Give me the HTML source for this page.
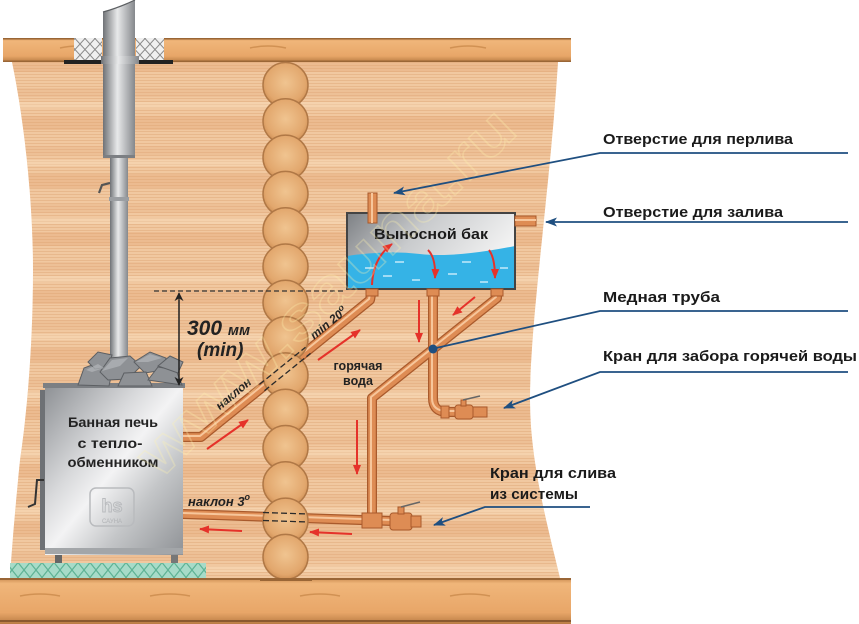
<!DOCTYPE html>
<html><head><meta charset="utf-8"><style>
html,body{margin:0;padding:0;background:#fff;}
svg{display:block;}
text{font-family:"Liberation Sans","DejaVu Sans",sans-serif;}
</style></head><body>
<svg width="859" height="624" viewBox="0 0 859 624" xmlns="http://www.w3.org/2000/svg">
<defs>
<pattern id="fine" width="8" height="3" patternUnits="userSpaceOnUse"><rect width="8" height="3" fill="#f1c8a0"/><rect y="2" width="8" height="1" fill="#e0ab7c" opacity="0.55"/></pattern>
<pattern id="bands" width="10" height="58" patternUnits="userSpaceOnUse"><rect y="0" width="10" height="14" fill="#e2a473" opacity="0.35"/><rect y="30" width="10" height="9" fill="#e6ae7e" opacity="0.3"/><rect y="44" width="10" height="6" fill="#fbe0c0" opacity="0.4"/></pattern>
<linearGradient id="beam" x1="0" y1="0" x2="0" y2="1"><stop offset="0" stop-color="#c98a50"/><stop offset="0.12" stop-color="#f0b67a"/><stop offset="0.75" stop-color="#e8a668"/><stop offset="1" stop-color="#b97c44"/></linearGradient>
<radialGradient id="log" cx="0.5" cy="0.45" r="0.55"><stop offset="0" stop-color="#f0c490"/><stop offset="0.8" stop-color="#e2a76d"/><stop offset="1" stop-color="#d09157"/></radialGradient>
<linearGradient id="pipeV" x1="0" y1="0" x2="1" y2="0"><stop offset="0" stop-color="#6f7276"/><stop offset="0.45" stop-color="#e8e9ea"/><stop offset="1" stop-color="#85888c"/></linearGradient>
<linearGradient id="stove" x1="0" y1="0" x2="1" y2="1"><stop offset="0" stop-color="#8d9094"/><stop offset="0.35" stop-color="#d8d9db"/><stop offset="0.5" stop-color="#f3f3f4"/><stop offset="0.7" stop-color="#c4c6c8"/><stop offset="1" stop-color="#8f9296"/></linearGradient>
<linearGradient id="tank" x1="0" y1="0" x2="1" y2="0.4"><stop offset="0" stop-color="#7d8084"/><stop offset="0.45" stop-color="#c9cbcd"/><stop offset="1" stop-color="#f4f4f4"/></linearGradient>
<pattern id="xhatch" width="10" height="11" patternUnits="userSpaceOnUse"><rect width="10" height="11" fill="#f0f0f0"/><path d="M0,0 L10,11 M10,0 L0,11" stroke="#8a8a8a" stroke-width="1"/></pattern>
<pattern id="green" width="12" height="15" patternUnits="userSpaceOnUse"><rect width="12" height="15" fill="#a7dbc8"/><path d="M0,0 L12,15 M12,0 L0,15" stroke="#5fb395" stroke-width="1.2"/></pattern>
<marker id="ra" viewBox="0 0 10 8" refX="9" refY="4" markerWidth="10" markerHeight="8" markerUnits="userSpaceOnUse" orient="auto"><path d="M0,0 L10,4 L0,8 z" fill="#e5322a"/></marker>
<marker id="ba" viewBox="0 0 12 9" refX="11" refY="4.5" markerWidth="12" markerHeight="9" markerUnits="userSpaceOnUse" orient="auto"><path d="M0,0 L12,4.5 L0,9 L3,4.5 z" fill="#1f4f80"/></marker>
<marker id="da" viewBox="0 0 10 10" refX="9" refY="5" markerWidth="9" markerHeight="9" markerUnits="userSpaceOnUse" orient="auto"><path d="M0,0 L10,5 L0,10 L3,5 z" fill="#222"/></marker>
</defs>

<!-- wall -->
<path d="M12,62 C24,120 33,200 33,270 C33,350 26,420 20,460 C16,500 12,545 10,578 L560,578 C546,520 530,460 530,400 C530,320 550,190 558,62 Z" fill="url(#fine)"/>
<path d="M12,62 C24,120 33,200 33,270 C33,350 26,420 20,460 C16,500 12,545 10,578 L560,578 C546,520 530,460 530,400 C530,320 550,190 558,62 Z" fill="url(#bands)"/>

<!-- ceiling beam -->
<rect x="3" y="38" width="568" height="24" fill="url(#beam)"/>
<rect x="3" y="38" width="568" height="1.5" fill="#9a6636"/>
<rect x="3" y="60.5" width="568" height="1.5" fill="#9a6636"/>
<!-- floor beam -->
<rect x="0" y="578" width="571" height="46" fill="url(#beam)"/>
<rect x="0" y="578" width="571" height="2" fill="#9a6636"/>
<rect x="0" y="620" width="571" height="2" fill="#8a5a30"/>
<path d="M20,596 q20,-4 40,0 M150,596 q20,-4 40,0 M300,596 q20,-4 40,0 M450,596 q20,-4 40,0 M60,48 q18,-4 36,0 M250,48 q18,-4 36,0 M450,48 q18,-4 36,0" stroke="#c48446" stroke-width="1.5" fill="none" opacity="0.7"/>

<!-- insulation -->
<rect x="74" y="38" width="28" height="22" fill="url(#xhatch)"/>
<rect x="136" y="38" width="28" height="22" fill="url(#xhatch)"/>

<!-- chimney -->
<rect x="110" y="155" width="18" height="205" fill="url(#pipeV)"/>
<rect x="109" y="197" width="20" height="4" fill="#9b9ea2"/>
<path d="M103,12 Q118,8 135,0 L135,157 L103,157 Z" fill="url(#pipeV)"/>
<path d="M103,12 Q118,8 135,0" stroke="#5c5f62" stroke-width="1.2" fill="none"/>
<rect x="103" y="155" width="32" height="3" fill="#7c7f83"/>
<rect x="64" y="60" width="109" height="4" fill="#222"/>
<rect x="101" y="56" width="38" height="8" fill="url(#pipeV)"/>
<path d="M110,183 L102,185 L99,193" stroke="#555" stroke-width="2.2" fill="none"/>

<!-- pipes (behind logs) -->
<g fill="none" stroke-linejoin="round" stroke-linecap="butt">
<path d="M183,437 L201,437 L370,300 L372,289 M497,289 L497,298 L372,398 L372,514 M433,289 L433,398 Q433,412 447,412 L480,412 M183,514 L420,522" stroke="#a95a2c" stroke-width="10"/>
<path d="M183,437 L201,437 L370,300 L372,289 M497,289 L497,298 L372,398 L372,514 M433,289 L433,398 Q433,412 447,412 L480,412 M183,514 L420,522" stroke="#de8c54" stroke-width="7.5"/>
<path d="M183,436 L200,436 L369,299 L371,289 M496,289 L496,297 L371,397 L371,514 M432,289 L432,398 Q432,411 447,411 L480,411 M183,513 L420,521" stroke="#f7c69b" stroke-width="2"/>
</g>

<!-- logs -->
<g stroke="#b07846" stroke-width="1.5" fill="url(#log)">
<circle cx="285.5" cy="85" r="22.5"/><circle cx="285.5" cy="121.3" r="22.5"/><circle cx="285.5" cy="157.6" r="22.5"/><circle cx="285.5" cy="193.9" r="22.5"/><circle cx="285.5" cy="230.2" r="22.5"/><circle cx="285.5" cy="266.5" r="22.5"/><circle cx="285.5" cy="302.8" r="22.5"/><circle cx="285.5" cy="339.1" r="22.5"/><circle cx="285.5" cy="375.4" r="22.5"/><circle cx="285.5" cy="411.7" r="22.5"/><circle cx="285.5" cy="448" r="22.5"/><circle cx="285.5" cy="484.3" r="22.5"/><circle cx="285.5" cy="520.6" r="22.5"/><circle cx="285.5" cy="556.9" r="22.5"/>
</g>
<rect x="260" y="578" width="52" height="3" fill="#9a6636"/>
<!-- dashed hidden pipes -->
<g stroke="#2a2a2a" stroke-width="1.3" stroke-dasharray="6,3" fill="none">
<path d="M259.5,384.4 L305.5,347.2 M264.5,390.6 L310.5,353.4"/>
<path d="M263,512.5 L308,514 M263,520.5 L308,522"/>
</g>

<!-- stove base -->
<rect x="10" y="563" width="196" height="15" fill="url(#green)"/>
<!-- stove -->
<rect x="55" y="553" width="7" height="10" fill="#666"/>
<rect x="171" y="553" width="7" height="10" fill="#777"/>
<rect x="40" y="390" width="7" height="160" fill="#6e7175"/>
<rect x="45" y="385" width="138" height="170" fill="url(#stove)"/>
<rect x="43" y="383" width="142" height="5" fill="#7c7f83"/>
<rect x="45" y="548" width="138" height="6" fill="#a3a6a9"/>
<path d="M44,480 L37,480 L35,504 L28,507" stroke="#333" stroke-width="2" fill="none"/>
<rect x="90" y="488" width="44" height="38" rx="6" fill="none" stroke="#b9bbbe" stroke-width="1.5"/>
<text x="112" y="512" font-size="18" font-weight="bold" fill="none" stroke="#b9bbbe" stroke-width="1" text-anchor="middle">hs</text>
<text x="112" y="523" font-size="6" fill="#b0b2b5" text-anchor="middle">САУНА</text>
<g font-size="13.5" font-weight="bold" fill="#222" text-anchor="middle">
<text x="113" y="427" textLength="90" lengthAdjust="spacingAndGlyphs">Банная печь</text>
<text x="110" y="448" textLength="65" lengthAdjust="spacingAndGlyphs">с тепло-</text>
<text x="113" y="467" textLength="91" lengthAdjust="spacingAndGlyphs">обменником</text>
</g>
<!-- stones -->
<g fill="#8e9195" stroke="#5c5f63" stroke-width="1">
<polygon points="78,385 84,368 100,362 112,372 109,386"/>
<polygon points="88,362 98,352 112,355 108,367 95,369"/>
<polygon points="100,372 110,358 130,356 141,366 128,379 108,380"/>
<polygon points="134,362 150,352 166,358 163,370 145,373"/>
<polygon points="118,386 124,373 146,372 152,386"/>
<polygon points="148,380 158,367 176,370 182,385"/>
<polygon points="158,366 170,356 183,362 178,373"/>
</g>
<g fill="#b4b7ba" opacity="0.7"><polygon points="102,371 112,360 128,358 120,366"/><polygon points="136,362 150,354 162,358 148,362"/><polygon points="86,370 98,364 104,368 92,372"/></g>

<!-- dimension -->
<line x1="154" y1="291" x2="346" y2="291" stroke="#333" stroke-width="1.3" stroke-dasharray="5,3"/>
<line x1="179" y1="380" x2="179" y2="293" stroke="#222" stroke-width="1.3" marker-end="url(#da)"/>
<line x1="179" y1="300" x2="179" y2="385" stroke="#222" stroke-width="1.3" marker-end="url(#da)"/>
<text x="187" y="335" font-size="21" font-weight="bold" font-style="italic" fill="#222">300 <tspan font-size="15">мм</tspan></text>
<text x="197" y="356" font-size="19" font-weight="bold" font-style="italic" fill="#222">(min)</text>

<!-- tank -->
<rect x="347" y="213" width="168" height="76" fill="url(#tank)"/>
<path d="M347,256 Q385,250 420,254 T515,246 L515,289 L347,289 Z" fill="#35b3e6"/>
<g stroke="#e8f7ff" stroke-width="1.2"><line x1="365" y1="268" x2="374" y2="268"/><line x1="395" y1="262" x2="404" y2="262"/><line x1="462" y1="262" x2="471" y2="262"/><line x1="383" y1="276" x2="392" y2="276"/><line x1="448" y1="274" x2="457" y2="274"/><line x1="480" y1="282" x2="488" y2="282"/><line x1="412" y1="280" x2="420" y2="280"/><line x1="500" y1="268" x2="508" y2="268"/></g>
<rect x="347" y="213" width="168" height="76" fill="none" stroke="#444" stroke-width="2"/>
<text x="431" y="239" font-size="15" font-weight="bold" fill="#1a1a1a" text-anchor="middle" textLength="114" lengthAdjust="spacingAndGlyphs">Выносной бак</text>
<!-- overflow pipe -->
<rect x="368" y="193" width="9" height="30" fill="#de8c54" stroke="#a95a2c" stroke-width="1"/>
<rect x="371" y="193" width="2" height="30" fill="#f7c69b"/>
<!-- inlet pipe -->
<rect x="515" y="216" width="21" height="10" fill="#de8c54" stroke="#a95a2c" stroke-width="1"/>
<rect x="515" y="219" width="21" height="2" fill="#f7c69b"/>
<!-- outlet collars -->
<g fill="#de8c54" stroke="#a95a2c" stroke-width="1"><rect x="366" y="289" width="12" height="7"/><rect x="427" y="289" width="12" height="7"/><rect x="491" y="289" width="12" height="7"/></g>
<!-- hot tap -->
<g fill="#de8c54" stroke="#a95a2c" stroke-width="1">
<rect x="441" y="406" width="8" height="12"/>
<rect x="455" y="405" width="18" height="14" rx="3"/>
<rect x="461" y="400" width="5" height="6"/>
<rect x="473" y="407" width="14" height="10"/>
</g>
<path d="M463,400 L480,396" stroke="#666" stroke-width="1.6"/>
<!-- drain -->
<g fill="#de8c54" stroke="#a95a2c" stroke-width="1">
<rect x="362" y="513" width="20" height="15"/>
<rect x="390" y="513" width="22" height="17" rx="3"/>
<rect x="398" y="507" width="6" height="7"/>
<rect x="411" y="516" width="10" height="11"/>
</g>
<path d="M401,507 L420,502" stroke="#666" stroke-width="1.6"/>

<!-- red arrows -->
<g stroke="#e5322a" stroke-width="2" fill="none" marker-end="url(#ra)">
<line x1="207" y1="449" x2="248" y2="420"/>
<line x1="318" y1="360" x2="360" y2="330"/>
<path d="M372,285 Q373,258 392,244"/>
<path d="M428,250 Q436,258 435,278"/>
<path d="M489,250 Q495,258 495,278"/>
<line x1="419" y1="300" x2="419" y2="342"/>
<line x1="475" y1="297" x2="453" y2="315"/>
<line x1="357" y1="420" x2="357" y2="474"/>
<line x1="352" y1="534" x2="310" y2="532"/>
<line x1="242" y1="531" x2="200" y2="529"/>
</g>

<!-- diagram labels -->
<text transform="translate(236,397) rotate(-40)" font-size="12" font-weight="bold" font-style="italic" fill="#222" text-anchor="middle">наклон</text>
<text transform="translate(331,326) rotate(-39)" font-size="12" font-weight="bold" font-style="italic" fill="#222" text-anchor="middle">min 20<tspan font-size="9" dy="-5">o</tspan></text>
<text x="358" y="370" font-size="12.5" font-weight="bold" fill="#222" text-anchor="middle">горячая</text>
<text x="358" y="385" font-size="12.5" font-weight="bold" fill="#222" text-anchor="middle">вода</text>
<text x="188" y="506" font-size="13" font-weight="bold" font-style="italic" fill="#222">наклон 3<tspan font-size="9" dy="-6">o</tspan></text>

<!-- watermark -->
<text transform="translate(160,480) rotate(-44)" font-size="60" font-weight="bold" fill="none" stroke="#fff3b0" stroke-width="1.4" opacity="0.3" textLength="500" lengthAdjust="spacingAndGlyphs">www.sauna.ru</text>

<!-- leaders -->
<g stroke="#1f4f80" stroke-width="1.8" fill="none">
<path d="M848,153 L600,153 L394,193" marker-end="url(#ba)"/>
<path d="M848,222 L546,222" marker-end="url(#ba)"/>
<path d="M848,311 L600,311 L436,348"/>
<path d="M848,372 L600,372 L504,408" marker-end="url(#ba)"/>
<path d="M590,507 L485,507 L434,525" marker-end="url(#ba)"/>
</g>
<circle cx="433" cy="349" r="4.5" fill="#1f4f80"/>

<!-- right labels -->
<g font-size="15" font-weight="bold" fill="#1a1a1a">
<text x="603" y="144" textLength="190" lengthAdjust="spacingAndGlyphs">Отверстие для перлива</text>
<text x="603" y="217" textLength="180" lengthAdjust="spacingAndGlyphs">Отверстие для залива</text>
<text x="603" y="302" textLength="117" lengthAdjust="spacingAndGlyphs">Медная труба</text>
<text x="603" y="361" textLength="254" lengthAdjust="spacingAndGlyphs">Кран для забора горячей воды</text>
<text x="490" y="478" textLength="126" lengthAdjust="spacingAndGlyphs">Кран для слива</text>
<text x="490" y="499" textLength="88" lengthAdjust="spacingAndGlyphs">из системы</text>
</g>
</svg>
</body></html>
